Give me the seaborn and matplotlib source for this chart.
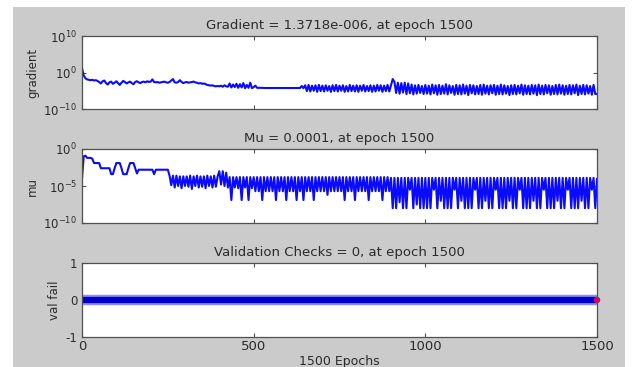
import numpy as np
import pandas as pd
import matplotlib
matplotlib.use("Agg")
import matplotlib.pyplot as plt
import seaborn as sns
from matplotlib.patches import Rectangle
from matplotlib.ticker import NullLocator

# ---------------- data ----------------
epochs = list(range(0, 1501, 5))

# log10(gradient), one value every 5 epochs
grad_log_a = [
    1.2, -0.8, -1.6, -1.9, -2.0, -2.1, -2.0, -2.2, -2.1, -2.3,
    -2.6, -3.0, -2.4, -2.2, -2.9, -3.3, -2.7, -2.5, -3.1, -2.8,
    -2.4, -2.9, -3.4, -2.8, -2.3, -2.6, -3.0, -2.7, -2.5, -2.9,
    -3.2, -2.6, -2.4, -2.7, -2.9, -2.6, -2.5, -2.7, -2.4, -2.6,
    -2.5, -1.9, -2.6, -2.7, -2.6, -2.8, -2.7, -2.6, -2.5, -2.7,
    -2.8, -2.6, -2.2, -1.8, -2.7, -2.8, -2.6, -2.1, -2.6, -2.9,
    -2.7, -2.6, -2.8, -2.7, -2.6, -2.5, -2.7, -2.8, -3.0, -2.9,
    -3.1, -3.0, -3.2, -3.4, -3.5, -3.6, -3.5, -3.7, -3.8, -3.7,
    -3.8, -3.6, -3.9, -3.5, -3.8, -3.9, -3.0, -4.1, -3.3, -4.0,
    -3.1, -4.2, -3.2, -4.1, -2.9, -4.3, -3.4, -4.2, -2.8, -4.3,
]
grad_log_b = [
    -4.0, -3.6, -4.2, -4.2, -4.2, -4.2, -4.25, -4.25, -4.25, -4.25,
    -4.25, -4.25, -4.25, -4.25, -4.25, -4.25, -4.25, -4.25, -4.25, -4.25,
    -4.25, -4.25, -4.25, -4.25, -4.25, -4.25, -4.25, -4.25, -3.7, -4.3,
    -3.5, -5.1, -3.4, -5.2, -3.6, -5.0, -3.5, -5.3, -3.4, -5.1,
    -3.6, -5.2, -3.5, -5.0, -3.7, -5.3, -3.5, -5.1, -3.4, -5.2,
    -3.6, -5.0, -3.5, -5.3, -3.7, -5.2, -3.4, -5.1, -3.6, -5.2,
    -3.5, -5.3, -3.6, -5.0, -3.4, -5.2, -3.7, -5.1, -3.5, -5.3,
    -3.6, -5.2, -3.4, -5.0, -3.5, -5.3, -3.6, -5.1, -3.4, -5.2,
    -3.5, -1.8, -2.6, -5.6, -2.8, -5.8, -2.9, -5.5, -2.8, -5.9,
    -3.0, -5.7, -3.3, -6.0, -3.5, -5.8, -3.4, -5.6, -3.7, -5.9,
]
grad_log_c = [
    -3.4, -5.8, -3.6, -6.0, -3.3, -5.7, -3.5, -6.1, -3.4, -5.9,
    -3.6, -5.8, -3.2, -6.0, -3.5, -5.6, -3.7, -6.1, -3.4, -5.9,
    -3.5, -6.0, -3.3, -5.8, -3.6, -6.2, -3.4, -5.7, -3.5, -6.0,
    -3.7, -5.9, -3.4, -6.1, -3.3, -5.8, -3.6, -6.0, -3.5, -5.7,
    -3.4, -6.1, -3.6, -5.9, -3.3, -6.0, -3.5, -5.8, -3.7, -6.2,
    -3.5, -5.9, -3.4, -6.0, -3.6, -5.7, -3.3, -6.1, -3.5, -5.9,
    -3.6, -6.0, -3.4, -5.8, -3.5, -6.2, -3.3, -5.9, -3.6, -6.0,
    -3.4, -5.7, -3.5, -6.1, -3.7, -5.9, -3.4, -6.0, -3.3, -5.8,
    -3.5, -6.1, -3.6, -5.9, -3.4, -6.0, -3.5, -5.7, -3.3, -6.2,
    -3.6, -5.9, -3.4, -6.0, -3.5, -5.8, -3.7, -6.1, -3.4, -5.9,
    -5.86,
]

# log10(mu), one value every 5 epochs
mu_log_a = [
    -4.0, -1.0, -0.9, -1.2, -1.2, -1.2, -1.3, -1.9, -1.9, -1.9,
    -1.9, -2.6, -2.6, -2.6, -2.6, -2.6, -2.6, -3.4, -3.4, -2.6,
    -1.9, -1.9, -1.9, -2.6, -3.4, -3.4, -3.4, -2.6, -1.9, -1.9,
    -1.9, -2.6, -3.3, -2.8, -2.8, -2.8, -2.8, -2.8, -2.8, -2.8,
    -2.8, -2.8, -3.4, -2.8, -2.8, -2.8, -2.8, -2.8, -2.8, -2.8,
    -2.8, -3.6, -4.9, -3.6, -5.2, -3.6, -5.0, -3.7, -5.3, -3.7,
    -5.0, -3.7, -5.1, -3.6, -5.4, -3.7, -5.0, -3.6, -5.2, -3.7,
    -5.1, -3.7, -5.3, -3.6, -5.0, -3.7, -5.2, -3.6, -5.1, -3.7,
    -3.0, -4.8, -3.0, -5.0, -3.2, -5.2, -3.8, -6.9, -3.8, -5.2,
    -3.8, -5.3, -3.8, -6.9, -3.8, -5.2, -3.8, -6.9, -3.8, -5.3,
]
mu_log_b = [
    -3.8, -5.7, -3.8, -5.7, -3.8, -6.9, -3.8, -5.7, -3.8, -5.7,
    -3.8, -5.7, -3.8, -6.9, -3.8, -5.7, -3.8, -5.7, -3.8, -6.9,
    -3.8, -5.7, -3.8, -5.7, -3.8, -6.9, -3.8, -5.7, -3.8, -6.9,
    -3.8, -5.7, -3.8, -5.7, -3.8, -6.9, -3.8, -5.7, -3.8, -5.7,
    -3.8, -5.7, -3.8, -6.2, -3.8, -5.7, -3.8, -5.7, -3.8, -5.7,
    -3.8, -5.7, -3.8, -6.9, -3.8, -5.7, -3.8, -5.7, -3.8, -6.9,
    -3.8, -5.7, -3.8, -5.7, -3.8, -5.7, -3.8, -6.9, -3.8, -5.7,
    -3.8, -5.7, -3.8, -5.7, -3.8, -6.9, -3.8, -5.7, -3.8, -5.7,
    -3.9, -8.0, -3.9, -8.0, -3.9, -7.2, -3.9, -8.0, -3.9, -8.0,
    -3.9, -5.5, -3.9, -8.0, -3.9, -7.5, -3.9, -8.0, -3.9, -8.0,
]
mu_log_c = [
    -3.9, -8.0, -3.9, -8.0, -3.9, -5.5, -3.9, -8.0, -3.9, -7.0,
    -3.9, -8.0, -3.9, -8.0, -3.9, -8.0, -3.9, -5.5, -3.9, -8.0,
    -3.9, -7.0, -3.9, -8.0, -3.9, -8.0, -3.9, -8.0, -3.9, -5.5,
    -3.9, -8.0, -3.9, -8.0, -3.9, -7.0, -3.9, -8.0, -3.9, -8.0,
    -3.9, -5.5, -3.9, -8.0, -3.9, -8.0, -3.9, -8.0, -3.9, -7.0,
    -3.9, -8.0, -3.9, -8.0, -3.9, -5.5, -3.9, -8.0, -3.9, -8.0,
    -3.9, -8.0, -3.9, -7.0, -3.9, -8.0, -3.9, -8.0, -3.9, -5.5,
    -3.9, -8.0, -3.9, -8.0, -3.9, -8.0, -3.9, -7.0, -3.9, -8.0,
    -3.9, -8.0, -3.9, -5.5, -3.9, -8.0, -3.9, -8.0, -3.9, -8.0,
    -3.9, -7.0, -3.9, -8.0, -3.9, -8.0, -3.9, -5.5, -3.9, -8.0,
    -4.0,
]

val_epochs = [0, 1500]
val_fail = [0, 0]
final_epoch = [1500]
final_val = [0]

titles = ["Gradient = 1.3718e-006, at epoch 1500",
          "Mu = 0.0001, at epoch 1500",
          "Validation Checks = 0, at epoch 1500"]
ylabels = ["gradient", "mu", "val fail"]
xlabel = "1500 Epochs"
x_ticks = [0, 500, 1000, 1500]

grad_log = grad_log_a + grad_log_b + grad_log_c
mu_log = mu_log_a + mu_log_b + mu_log_c
assert len(grad_log) == len(epochs) and len(mu_log) == len(epochs)

df_grad = pd.DataFrame({"epoch": epochs, "gradient": 10.0 ** np.array(grad_log)})
df_mu = pd.DataFrame({"epoch": epochs, "mu": 10.0 ** np.array(mu_log)})
df_val = pd.DataFrame({"epoch": val_epochs, "val": val_fail})

# ---------------- style ----------------
sns.set_style("ticks")
plt.rcParams["font.family"] = ["DejaVu Sans"]
plt.rcParams["mathtext.fontset"] = "dejavusans"
plt.rcParams["path.simplify"] = False
TXT = "#2b2b2b"
SPINE = "#505050"
BLUE = "#0a0aff"

W, H = 633, 367
fig = plt.figure(figsize=(W / 100, H / 100), dpi=100, facecolor="white")
fig.patches.append(Rectangle((13 / W, 0), (625 - 13) / W, (H - 7) / H,
                             transform=fig.transFigure, facecolor="#cbcbcb",
                             edgecolor="none", zorder=-10))

ax1 = fig.add_axes([82 / W, 1 - 109 / H, 515 / W, 73 / H])
ax2 = fig.add_axes([82 / W, 1 - 223 / H, 515 / W, 74 / H])
ax3 = fig.add_axes([82 / W, 1 - 337 / H, 515 / W, 74 / H])

sns.lineplot(data=df_grad, x="epoch", y="gradient", ax=ax1, color=BLUE,
             lw=1.5, estimator=None, sort=False)
sns.lineplot(data=df_mu, x="epoch", y="mu", ax=ax2, color=BLUE,
             lw=1.5, estimator=None, sort=False)
sns.lineplot(data=df_val, x="epoch", y="val", ax=ax3, color="#8c8cff",
             lw=7.5, estimator=None, sort=False)
sns.lineplot(data=df_val, x="epoch", y="val", ax=ax3, color="#0000c8",
             lw=4.5, estimator=None, sort=False)
sns.scatterplot(x=final_epoch, y=final_val, ax=ax3, color="#c0105a", s=22,
                edgecolor="none", zorder=5, clip_on=False)

ax1.set_yscale("log")
ax1.set_ylim(1e-10, 1e10)
ax1.set_yticks([1e-10, 1e0, 1e10])
ax1.set_yticklabels([r"$10^{-10}$", r"$10^{0}$", r"$10^{10}$"])

ax2.set_yscale("log")
ax2.set_ylim(1e-10, 1e0)
ax2.set_yticks([1e-10, 1e-5, 1e0])
ax2.set_yticklabels([r"$10^{-10}$", r"$10^{-5}$", r"$10^{0}$"])

ax3.set_ylim(-1, 1)
ax3.set_yticks([-1, 0, 1])
ax3.set_yticklabels(["-1", "0", "1"])

for ax, t, yl in zip([ax1, ax2, ax3], titles, ylabels):
    ax.set_facecolor("white")
    ax.set_xlim(0, 1500)
    ax.set_xticks(x_ticks)
    ax.yaxis.set_minor_locator(NullLocator())
    ax.xaxis.set_minor_locator(NullLocator())
    ax.set_title(t, fontsize=9.5, color=TXT, pad=5)
    ax.set_ylabel(yl, fontsize=8.5, color=TXT, labelpad=3)
    ax.set_xlabel("")
    ax.tick_params(axis="both", direction="in", length=3, width=0.8,
                   color=SPINE, labelcolor=TXT, labelsize=8.5,
                   top=True, right=True)
    for s in ax.spines.values():
        s.set_color(SPINE)
        s.set_linewidth(0.9)
    ax.grid(False)

ax1.tick_params(axis="x", labelbottom=False)
ax2.tick_params(axis="x", labelbottom=False)
ax3.tick_params(axis="x", labelsize=9.5, pad=2.5)
ax3.set_xlabel(xlabel, fontsize=9, color=TXT, labelpad=1)

fig.savefig("out.png", dpi=100, facecolor="white")
